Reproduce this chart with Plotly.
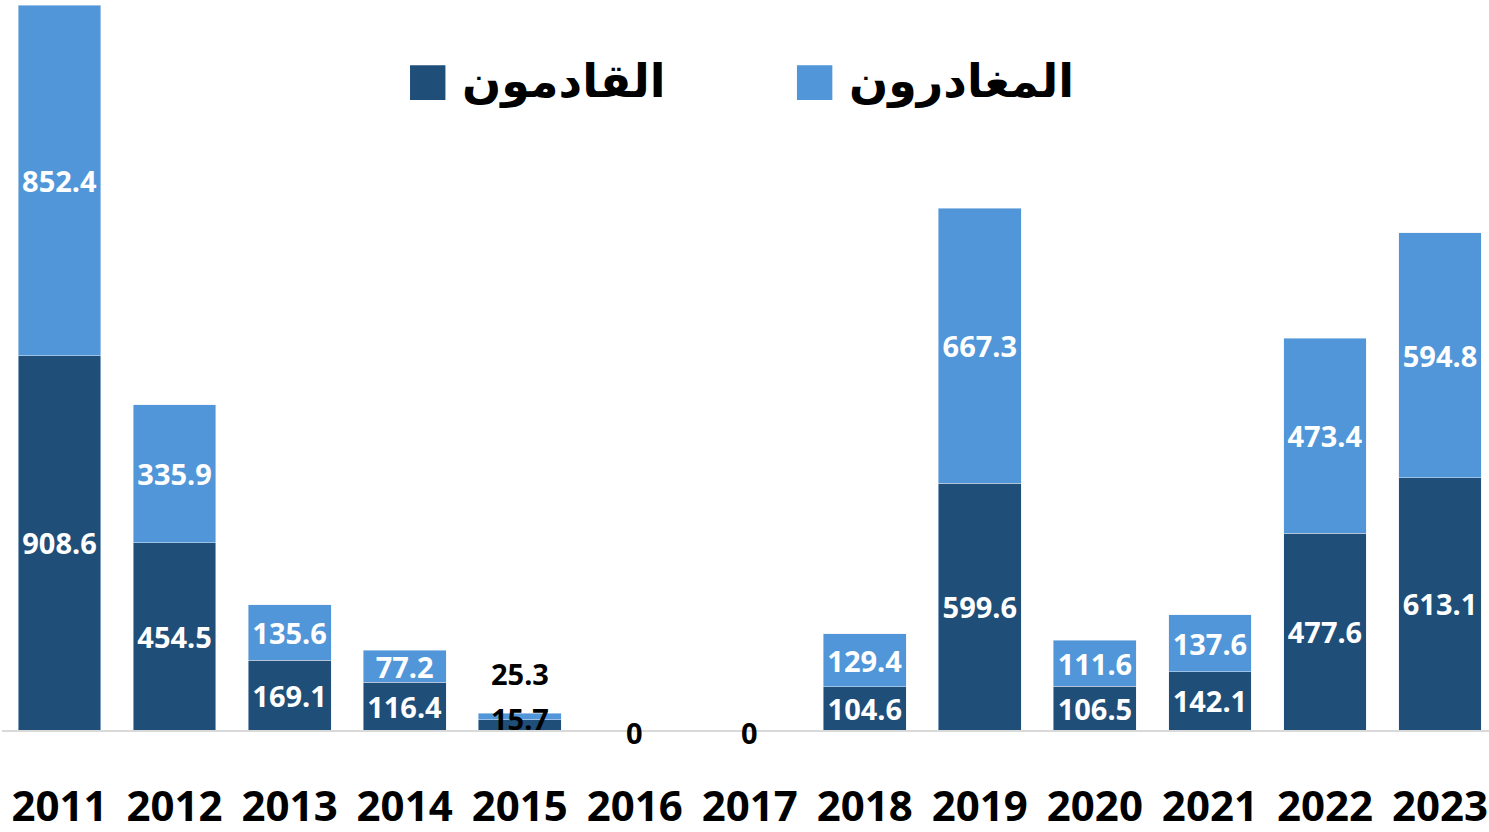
import plotly.graph_objects as go

# Dados (milhares) - chegadas e partidas por ano
years = ["2011", "2012", "2013", "2014", "2015", "2016", "2017",
         "2018", "2019", "2020", "2021", "2022", "2023"]
arrivals = [908.6, 454.5, 169.1, 116.4, 25.3, 0, 0, 104.6, 599.6, 106.5, 142.1, 477.6, 613.1]
departures = [852.4, 335.9, 135.6, 77.2, 15.7, 0, 0, 129.4, 667.3, 111.6, 137.6, 473.4, 594.8]

name_arrivals = "القادمون"
name_departures = "المغادرون"

# anos com rótulos fora das barras (barras demasiado pequenas)
small_years = ["2015", "2016", "2017"]

DARK = "#1f4e79"
LIGHT = "#5096d9"
FONT = "Noto Sans, DejaVu Sans, sans-serif"

xpos = list(range(len(years)))


def fmt(v):
    return "0" if v == 0 else f"{v:g}"


arr_text = ["" if y in small_years else fmt(v) for y, v in zip(years, arrivals)]
dep_text = ["" if y in small_years else fmt(v) for y, v in zip(years, departures)]

bar_font = dict(family=FONT, size=29, color="white", weight="bold")
fig = go.Figure()
fig.add_trace(go.Bar(x=xpos, y=arrivals, name=name_arrivals, marker_color=DARK,
                     text=arr_text, textposition="inside", insidetextanchor="middle",
                     textangle=0, constraintext="none", textfont=bar_font))
fig.add_trace(go.Bar(x=xpos, y=departures, name=name_departures, marker_color=LIGHT,
                     text=dep_text, textposition="inside", insidetextanchor="middle",
                     textangle=0, constraintext="none", textfont=bar_font))

# rótulos das barras pequenas
label_font = dict(family=FONT, size=29, color="black", weight="bold")
for i, y, a, d in zip(xpos, years, arrivals, departures):
    if y not in small_years:
        continue
    if a == 0 and d == 0:
        fig.add_annotation(x=i, y=0, text=fmt(a), showarrow=False, yanchor="middle",
                           yshift=-2, font=label_font)
    else:
        fig.add_annotation(x=i, y=a + d, text=fmt(a), showarrow=False, yanchor="middle",
                           yshift=40, font=label_font)
        fig.add_annotation(x=i, y=a + d / 2, text=fmt(d), showarrow=False, yanchor="middle",
                           yshift=-2, font=label_font)

# legenda desenhada à mão (quadrados grandes)
legend_items = [(name_arrivals, DARK, 0.2744), (name_departures, LIGHT, 0.5346)]
for name, color, x0 in legend_items:
    fig.add_shape(type="rect", xref="paper", yref="paper", x0=x0, x1=x0 + 0.0238,
                  y0=0.869, y1=0.917, fillcolor=color, line_width=0)
    fig.add_annotation(xref="paper", yref="paper", x=x0 + 0.0335, y=0.898, text=name,
                       showarrow=False, xanchor="left", yanchor="middle",
                       font=dict(family=FONT, size=46, color="black", weight="bold"))

fig.update_layout(
    width=1489, height=832,
    barmode="stack", bargap=0.28,
    showlegend=False,
    plot_bgcolor="white", paper_bgcolor="white",
    margin=dict(l=2, r=0, t=5, b=102),
    uniformtext=dict(minsize=29, mode="show"),
)
fig.update_xaxes(range=[-0.5, 12.426], tickvals=xpos, ticktext=years,
                 showline=True, linecolor="#d9d9d9", linewidth=2,
                 showgrid=False, zeroline=False, ticks="", ticklabelstandoff=39,
                 automargin=False,
                 tickfont=dict(family=FONT, size=42, color="black", weight="bold"))
fig.update_yaxes(range=[0, 1761], showticklabels=False, showline=False, showgrid=False,
                 zeroline=False, ticks="", automargin=False)

# sem margem no body para a figura ocupar a janela toda
fig.write_html("out.html", config={"displayModeBar": False},
               post_script="document.body.style.margin='0px';")
